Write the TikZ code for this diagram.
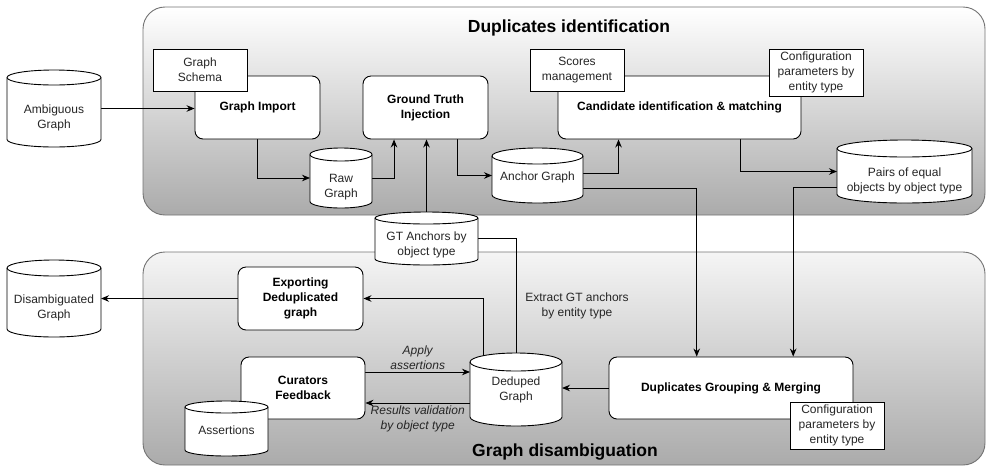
\documentclass[tikz,border=0pt]{standalone}
\usepackage{fontspec}
\setmainfont{Liberation Sans}
\usetikzlibrary{arrows.meta,calc}
\pgfdeclarelayer{panel}
\pgfdeclarelayer{edges}
\pgfsetlayers{panel,edges,main}

\tikzset{
  base/.style={font=\fontsize{12}{15}\selectfont, text=black!85, align=center},
  proc/.style={base, draw, fill=white, rounded corners=8pt, line width=0.9pt,
    font=\fontsize{12}{15}\selectfont\bfseries, text=black, inner sep=2pt},
  note/.style={base, draw, fill=white, line width=0.9pt, inner sep=1pt},
  dbline/.style={draw, fill=white, line width=0.9pt},
  dbbox/.style={inner sep=0pt, outer sep=0pt},
  flow/.style={draw, line width=0.9pt, -{Stealth[length=8pt,width=6.5pt]}},
  link/.style={draw, line width=0.9pt},
  elabel/.style={base, font=\fontsize{12}{15}\selectfont\itshape},
  panel/.style={draw=black!55, line width=0.9pt, rounded corners=22pt,
    top color=white, bottom color=black!33},
  ptitle/.style={font=\fontsize{17.5}{20}\selectfont\bfseries}
}

% box given by its corners: name, left, top, right, bottom, style, text
\newcommand\rectnode[7]{%
  \node[#6, minimum width={(#4-#2)*1pt}, minimum height={(#5-#3)*1pt}]
    (#1) at ({(#2+#4)/2},{(#3+#5)/2}) {#7};}

% database cylinder: name, left, top, right, bottom, cap radius, text drop, text
\newcommand\dbcyl[8]{%
  \draw[dbline] (#2,#3+#6) -- (#2,#5-#6)
     arc[start angle=180, end angle=0, x radius={(#4-#2)/2}, y radius=#6]
     -- (#4,#3+#6)
     arc[start angle=0, end angle=-180, x radius={(#4-#2)/2}, y radius=#6] -- cycle;
  \draw[dbline, fill=none] (#2,#3+#6)
     arc[start angle=180, end angle=0, x radius={(#4-#2)/2}, y radius=#6];
  \node[dbbox, minimum width={(#4-#2)*1pt}, minimum height={(#5-#3)*1pt}]
    (#1) at ({(#2+#4)/2},{(#3+#5)/2}) {};
  \node[base] (#1-t) at ($(#1.center)+(0,#7)$) {#8};}

\begin{document}
\begin{tikzpicture}[x=1pt, y=-1pt]
\useasboundingbox (0,0) rectangle (987,467);

% the two stage panels
\begin{pgfonlayer}{panel}
  \path[panel] (143,7) rectangle (985,215);
  \path[panel, top color=black!4] (143,252) rectangle (985,465);
\end{pgfonlayer}
\node[ptitle] (t1) at (569,28) {Duplicates identification};
\node[ptitle] (t2) at (565,452) {Graph disambiguation};

% processing steps
\rectnode{imp}{195}{76}{320}{139}{proc}{Graph Import}
\rectnode{gti}{363}{76}{488}{139}{proc}{Ground Truth\\Injection}
\rectnode{cand}{558}{76}{801}{139}{proc}{Candidate identification \& matching}
\rectnode{exp}{238}{267}{363}{330}{proc}{Exporting\\Deduplicated\\graph}
\rectnode{cur}{241}{357}{365}{419}{proc}{Curators\\Feedback}
\rectnode{dup}{609}{357}{853}{419}{proc}{Duplicates Grouping \& Merging}

% attached notes
\rectnode{schema}{153}{49}{247}{91}{note}{Graph\\Schema}
\rectnode{scores}{530}{49}{624}{91}{note}{Scores\\management}
\rectnode{cfga}{769}{49}{863}{96}{note}{Configuration\\parameters by\\entity type}
\rectnode{cfgb}{790}{402}{884}{449}{note}{Configuration\\parameters by\\entity type}

% data stores
\dbcyl{amb}{7}{70}{101}{147}{7.5}{9}{Ambiguous\\Graph}
\dbcyl{raw}{310}{148}{372}{208}{6.5}{9.5}{Raw\\Graph}
\dbcyl{anc}{492}{148}{583}{203}{8}{2}{Anchor Graph}
\dbcyl{pairs}{837}{140}{972}{203}{8.5}{9}{Pairs of equal\\objects by object type}
\dbcyl{gta}{375}{212}{478}{265}{6}{6.5}{GT Anchors by\\object type}
\dbcyl{ded}{470}{353}{562}{426}{9}{0}{Deduped\\Graph}
\dbcyl{dis}{7}{260}{101}{337}{8}{9.5}{Disambiguated\\Graph}
\dbcyl{ast}{185}{401}{268}{456}{6}{2}{Assertions}

\node[base] (xl) at (577,305.5) {Extract GT anchors\\by entity type};

\coordinate (ca) at ($(cur.east)+(0,-16)$);
\coordinate (cb) at ($(cur.east)+(0,15)$);

% data flow
\begin{pgfonlayer}{edges}
  \draw[flow] (amb.east) -- (amb.east -| imp.west);
  \draw[flow] (imp.south) |- (raw.west);
  \draw[flow] (raw.east) -| ($(gti.south west)!0.25!(gti.south east)$);
  \draw[flow] (gta.north) -- (gta.north |- gti.south);
  \draw[flow] ($(gti.south west)!0.75!(gti.south east)$) |- (anc.west);
  \draw[flow] ([yshift=2pt]anc.east) -| ($(cand.south west)!0.25!(cand.south east)$);
  \draw[flow] ($(cand.south west)!0.75!(cand.south east)$) |- (pairs.west);
  \draw[flow] ([yshift=-12.5pt]anc.east) -| ($(dup.north west)!0.36!(dup.north east)$);
  \draw[flow] ([yshift=-15.5pt]pairs.west) -| ($(dup.north west)!0.754!(dup.north east)$);
  \draw[link] (gta.east) -| (ded.north);
  \draw[flow] ($(ded.center)+(-33,0)$) |- (exp.east);
  \draw[flow] (exp.west) -- (exp.west -| dis.east);
  \draw[flow] (ca) -- (ca -| ded.west)
    node[midway, above, elabel, inner sep=2pt] {Apply\\assertions};
  \draw[flow] (cb -| ded.west) -- (cb)
    node[midway, below, elabel, inner sep=2pt] {Results validation\\by object type};
  \draw[flow] (dup.west) -- (dup.west -| ded.east);
\end{pgfonlayer}
\end{tikzpicture}
\end{document}
